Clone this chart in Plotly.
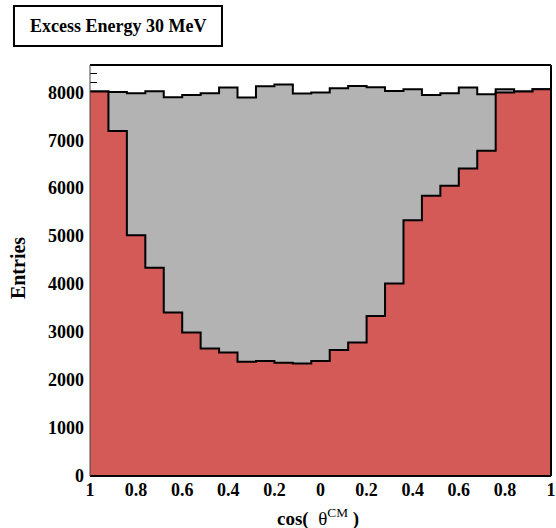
import plotly.graph_objects as go

# ---- data ----
bin_low = -1.0
bin_width = 0.08
n_bins = 25
total_counts = [8015, 8006, 7979, 8021, 7896, 7944, 7979, 8097, 7889, 8125,
                8160, 7972, 7993, 8083, 8132, 8104, 8028, 8062, 7944, 7979,
                8097, 7958, 8062, 8015, 8062]
accepted_counts = [8015, 7194, 5021, 4340, 3410, 2993, 2660, 2577, 2382, 2396,
                   2361, 2347, 2396, 2625, 2785, 3333, 4014, 5333, 5840, 6049,
                   6410, 6778, 7993, 8015, 8062]
tick_vals = [-1, -0.8, -0.6, -0.4, -0.2, 0, 0.2, 0.4, 0.6, 0.8, 1]
tick_text = ["1", "0.8", "0.6", "0.4", "0.2", "0", "0.2", "0.4", "0.6", "0.8", "1"]
y_ticks = [0, 1000, 2000, 3000, 4000, 5000, 6000, 7000, 8000]
title_text = "Excess Energy 30 MeV"

edges = [bin_low + i * bin_width for i in range(n_bins + 1)]
ymax = 1.05 * max(total_counts)

FONT = "Liberation Serif"
RED = "#D35A56"
GREY = "#B3B3B3"


def step(vals):
    return edges, list(vals) + [vals[-1]]


fig = go.Figure()
x, y = step(total_counts)
fig.add_trace(go.Scatter(x=x, y=y, mode="lines", line_shape="hv",
                         fill="tozeroy", fillcolor=GREY,
                         line=dict(color="black", width=2), hoverinfo="skip"))
x, y = step(accepted_counts)
fig.add_trace(go.Scatter(x=x, y=y, mode="lines", line_shape="hv",
                         fill="tozeroy", fillcolor=RED,
                         line=dict(color="black", width=2), hoverinfo="skip"))

fig.update_layout(
    width=556, height=528,
    margin=dict(l=90, r=5, t=65, b=52, autoexpand=False),
    paper_bgcolor="white", plot_bgcolor="white",
    showlegend=False,
    font=dict(family=FONT, size=18, color="black"),
    xaxis=dict(range=[-1, 1], tickvals=tick_vals, ticktext=tick_text,
               showgrid=False, zeroline=False, ticks="", showline=False,
               automargin=False,
               tickfont=dict(family=FONT, size=18, color="black", weight="bold"),
               ticklabelstandoff=1),
    yaxis=dict(range=[0, ymax], tickvals=y_ticks, showgrid=False, zeroline=False,
               ticks="inside", ticklen=12, tickcolor="black", tickwidth=1,
               minor=dict(ticks="inside", dtick=200, ticklen=7, tickcolor="black"),
               layer="below traces", showline=False, automargin=False,
               tickfont=dict(family=FONT, size=18, color="black", weight="bold"),
               ticklabelstandoff=5),
)

# frame
fig.add_shape(type="line", xref="paper", yref="paper", x0=0, x1=1, y0=1, y1=1,
              line=dict(color="black", width=2))
fig.add_shape(type="line", xref="paper", yref="paper", x0=1, x1=1, y0=0, y1=1,
              line=dict(color="black", width=2))
fig.add_shape(type="line", xref="paper", yref="paper", x0=0, x1=1, y0=0, y1=0,
              line=dict(color="black", width=2))
fig.add_shape(type="line", xref="paper", yref="paper", x0=0, x1=0, y0=0, y1=1,
              line=dict(color="#444444", width=1))

# title box
fig.add_shape(type="rect", xref="paper", yref="paper",
              x0=-0.1649, x1=0.2863, y0=1.0462, y1=1.1436,
              fillcolor="white", line=dict(color="black", width=2))
fig.add_annotation(xref="paper", yref="paper", x=0.0607, y=1.0949,
                   text="<b>" + title_text + "</b>", showarrow=False,
                   font=dict(family=FONT, size=18, color="black"),
                   xanchor="center", yanchor="middle")

# axis titles
fig.add_annotation(xref="paper", yref="paper", x=-0.156, y=0.506,
                   text="<b>Entries</b>", textangle=-90, showarrow=False,
                   font=dict(family=FONT, size=20, color="black"),
                   xanchor="center", yanchor="middle")
fig.add_annotation(xref="paper", yref="paper", x=0.4946, y=-0.0998,
                   text="<b>cos(</b>  θ<sup>CM</sup> <b>)</b>", showarrow=False,
                   font=dict(family=FONT, size=19, color="black"),
                   xanchor="center", yanchor="middle")

fig.write_html("out.html")
